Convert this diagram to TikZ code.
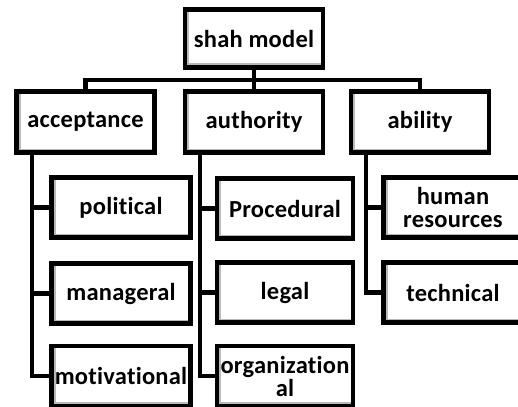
\documentclass[tikz,border=0pt]{standalone}
\usepackage{fontspec}
\setmainfont{Carlito}[LetterSpace=1,RawFeature=-liga]
\begin{document}
\begin{tikzpicture}[x=1pt,y=-1pt,
  box/.style={draw=black, line width=4.6pt, fill=white, minimum width=138pt, minimum height=61pt,
    inner sep=0pt, align=center, font=\fontsize{24.5}{23}\selectfont\bfseries,
    path picture={\draw[gray!55, line width=1.6pt]
      ([xshift=3.2pt]path picture bounding box.north west) --
      ([xshift=3.2pt,yshift=3.2pt]path picture bounding box.south west) --
      ([yshift=3.2pt]path picture bounding box.south east);}},
  sbox/.style={box, minimum width=139pt, minimum height=60pt},
  link/.style={draw=black, line width=4.4pt}]
\useasboundingbox (0,0) rectangle (518,406);
\clip (0,0) rectangle (518,406);
% nodes
\node[box, minimum height=58pt] (shah) at (254,38.5) {shah model};
\node[box] (acc) at (85.5,122) {acceptance};
\node[box] (aut) at (254,122) {authority};
\node[box] (abi) at (420,122) {ability};
\node[sbox] (pol) at (121,207.5) {political};
\node[sbox] (man) at (121,293.5) {manageral};
\node[sbox] (mot) at (121,376) {motivational};
\node[sbox, minimum width=136pt] (pro) at (285,208.5) {Procedural};
\node[sbox, minimum width=136pt] (leg) at (285,292.5) {legal};
\node[sbox, minimum width=136pt] (org) at (285,376) {organization\\al};
\node[sbox] (hum) at (453,207.5) {human\\resources};
\node[sbox] (tec) at (453,292.5) {technical};
% bus coordinates
\coordinate (bus) at (254,80);
\coordinate (acct) at (acc.north |- bus);
\coordinate (abit) at (abi.north |- bus);
\coordinate (accb) at ([xshift=17.5pt]acc.south west);
\coordinate (autb) at ([xshift=17.5pt]aut.south west);
\coordinate (abib) at ([xshift=17pt]abi.south west);
% connectors
\path[link] (shah.south) -- (bus);
\path[link] (acc.north) -- (acct) -- (abit) -- (abi.north);
\path[link] (bus) -- (aut.north);
\path[link] (accb) |- (mot.west);
\path[link] (accb |- pol.west) -- (pol.west);
\path[link] (accb |- man.west) -- (man.west);
\path[link] (autb) |- (org.west);
\path[link] (autb |- pro.west) -- (pro.west);
\path[link] (autb |- leg.west) -- (leg.west);
\path[link] (abib) |- (tec.west);
\path[link] (abib |- hum.west) -- (hum.west);
\end{tikzpicture}
\end{document}
